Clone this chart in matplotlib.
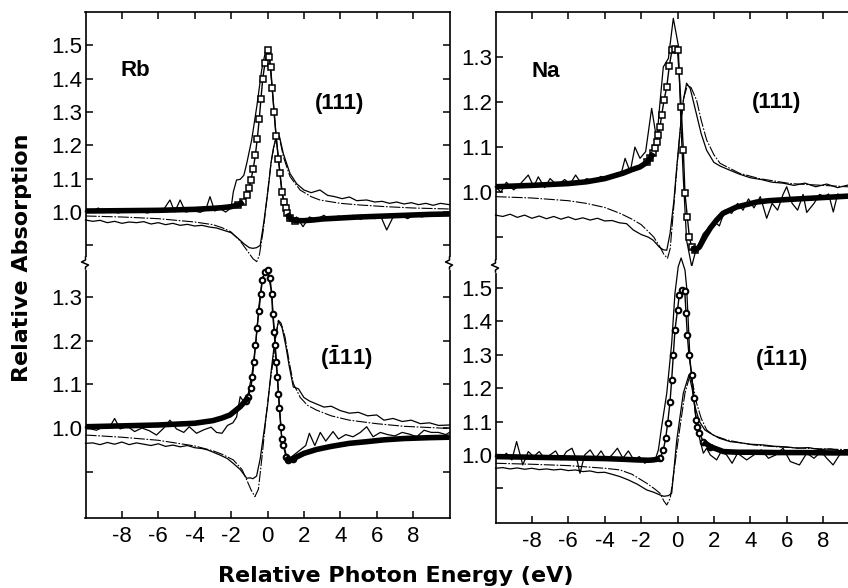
import numpy as np
import matplotlib
matplotlib.use("Agg")
import matplotlib.pyplot as plt
from matplotlib.lines import Line2D

plt.rcParams['font.family'] = ['Liberation Sans', 'DejaVu Sans']
plt.rcParams['axes.unicode_minus'] = False
plt.rcParams['mathtext.fontset'] = 'custom'
plt.rcParams['mathtext.rm'] = 'Liberation Sans:bold'
plt.rcParams['mathtext.bf'] = 'Liberation Sans:bold'
plt.rcParams['mathtext.it'] = 'Liberation Sans:bold'

# ---------------- Rb (111) ----------------
rb111_fit_x = [-10, -8, -6, -4, -3, -2.5, -2, -1.6, -1.33, -1.14, -1.02, -0.91, -0.78, -0.67, -0.56,
               -0.45, -0.36, -0.26, -0.14, 0.0, 0.1, 0.17, 0.26, 0.36, 0.47, 0.6, 0.69, 0.78, 0.91, 1.0,
               1.09, 1.24, 1.51, 2.0, 2.5, 3.0, 4.0, 5.0, 6.0, 7.0, 8.0, 9.0, 10.0]
rb111_fit_y = [1.003, 1.004, 1.005, 1.008, 1.011, 1.013, 1.016, 1.021, 1.031, 1.051, 1.071, 1.096, 1.13, 1.17, 1.22,
               1.28, 1.34, 1.40, 1.447, 1.486, 1.466, 1.436, 1.371, 1.30, 1.228, 1.16, 1.116, 1.061, 1.031, 1.011,
               0.996, 0.981, 0.974, 0.974, 0.976, 0.979, 0.982, 0.985, 0.987, 0.989, 0.991, 0.993, 0.994]
rb111_exp_x = [-10, -9.6, -9.3, -9.0, -8.6, -8.2, -7.8, -7.4, -7.0, -6.6, -6.2, -5.8, -5.36, -5.1, -4.8,
               -4.5, -4.1, -3.7, -3.4, -3.16, -2.9, -2.6, -2.3, -2.0, -1.88, -1.7, -1.5, -1.3, -1.14, -0.87,
               -0.59, -0.32, -0.08, 0.1, 0.26, 0.47, 0.69, 0.91, 1.1, 1.3, 1.6, 1.95, 2.3, 2.7, 3.1,
               3.5, 3.9, 4.3, 4.7, 5.1, 5.5, 5.9, 6.2, 6.55, 6.9, 7.3, 7.7, 8.1, 8.5, 8.9, 9.3, 9.7, 10]
rb111_exp_y = [1.0, 1.002, 1.012, 0.998, 1.003, 0.997, 1.004, 0.999, 1.002, 0.997, 1.003, 1.0, 1.036, 1.0, 1.036,
               1.0, 1.004, 0.999, 1.006, 1.046, 1.003, 1.01, 1.0, 1.012, 1.06, 1.096, 1.098, 1.11, 1.146, 1.216,
               1.316, 1.426, 1.49, 1.466, 1.37, 1.23, 1.11, 1.02, 0.975, 0.972, 0.985, 0.956, 0.985, 0.978, 0.99,
               0.975, 0.988, 0.98, 0.99, 0.978, 0.985, 0.98, 0.99, 0.946, 0.985, 0.99, 0.98, 0.992, 0.985, 0.995,
               0.99, 0.998, 0.99]
rb111_dth_x = [-10, -8, -6, -4, -3, -2.5, -2, -1.5, -1.14, -0.8, -0.59, -0.45, -0.23, 0.04, 0.2,
               0.32, 0.5, 0.65, 0.87, 1.24, 1.79, 2.4, 2.88, 4.0, 5.08, 6.5, 8.0, 10.0]
rb111_dth_y = [0.988, 0.985, 0.98, 0.97, 0.962, 0.953, 0.94, 0.913, 0.886, 0.86, 0.851, 0.87, 0.946, 1.076, 1.15,
               1.186, 1.228, 1.225, 1.166, 1.106, 1.066, 1.046, 1.036, 1.026, 1.021, 1.016, 1.012, 1.009]
rb111_dex_x = [-10, -9.6, -9.2, -8.8, -8.4, -8.0, -7.6, -7.2, -6.8, -6.4, -6.0, -5.6, -5.2, -4.8, -4.4,
               -4.0, -3.6, -3.2, -2.8, -2.4, -2.0, -1.6, -1.3, -1.0, -0.8, -0.6, -0.4, -0.2, 0.04, 0.2,
               0.32, 0.5, 0.65, 0.87, 1.24, 1.6, 2.0, 2.4, 2.88, 3.3, 3.7, 4.1, 4.5, 4.9, 5.45,
               5.9, 6.3, 6.7, 7.1, 7.5, 7.9, 8.3, 8.7, 9.1, 9.5, 10]
rb111_dex_y = [0.976, 0.972, 0.975, 0.968, 0.972, 0.966, 0.97, 0.968, 0.971, 0.964, 0.968, 0.962, 0.966, 0.96, 0.963,
               0.958, 0.96, 0.955, 0.952, 0.945, 0.938, 0.92, 0.905, 0.893, 0.891, 0.893, 0.90, 0.97, 1.07, 1.15,
               1.19, 1.232, 1.228, 1.175, 1.115, 1.085, 1.066, 1.058, 1.066, 1.05, 1.046, 1.04, 1.045, 1.034, 1.036,
               1.03, 1.032, 1.026, 1.03, 1.024, 1.028, 1.022, 1.026, 1.02, 1.026, 1.022]

# ---------------- Rb (-111) ----------------
rbm111_fit_x = [-10, -8, -6, -4, -3, -2.5, -2.06, -1.5, -1.2, -1.05, -0.92, -0.83, -0.74, -0.66, -0.58,
                -0.47, -0.37, -0.28, -0.14, 0.0, 0.14, 0.23, 0.28, 0.37, 0.41, 0.47, 0.54, 0.6, 0.65, 0.73,
                0.78, 0.87, 1.02, 1.14, 1.42, 2.0, 2.7, 3.5, 4.5, 5.5, 6.4, 7.5, 8.9, 10]
rbm111_fit_y = [1.003, 1.005, 1.007, 1.011, 1.017, 1.023, 1.03, 1.049, 1.063, 1.072, 1.091, 1.117, 1.152, 1.19, 1.228,
                1.268, 1.308, 1.34, 1.358, 1.362, 1.343, 1.308, 1.262, 1.22, 1.19, 1.152, 1.117, 1.079, 1.045, 1.003,
                0.976, 0.961, 0.934, 0.927, 0.93, 0.942, 0.951, 0.958, 0.965, 0.969, 0.973, 0.976, 0.978, 0.979]
rbm111_exp_x = [-10, -9.7, -9.4, -9.0, -8.7, -8.4, -8.1, -7.7, -7.3, -6.9, -6.5, -6.1, -5.7, -5.36, -5.0,
                -4.6, -4.3, -3.9, -3.5, -3.1, -2.8, -2.5, -2.2, -1.9, -1.7, -1.5, -1.3, -1.05, -0.83, -0.63,
                -0.47, -0.28, 0.0, 0.23, 0.41, 0.6, 0.78, 1.02, 1.2, 1.5, 1.8, 2.1, 2.3, 2.6, 2.9,
                3.2, 3.6, 3.9, 4.3, 4.7, 5.1, 5.45, 5.8, 6.2, 6.6, 7.0, 7.4, 7.8, 8.2, 8.6,
                9.0, 9.4, 9.8, 10]
rbm111_exp_y = [1.0, 0.998, 0.995, 1.003, 1.0, 1.022, 0.998, 1.004, 0.992, 1.0, 0.994, 0.984, 1.0, 1.018, 0.998,
                0.99, 1.003, 0.988, 0.996, 1.002, 0.99, 0.988, 1.006, 1.012, 1.025, 1.072, 1.06, 1.08, 1.13, 1.2,
                1.28, 1.345, 1.36, 1.31, 1.2, 1.085, 0.98, 0.94, 0.93, 0.94, 0.95, 0.96, 0.988, 0.96, 0.99,
                0.97, 0.992, 0.975, 0.985, 0.98, 0.99, 1.003, 0.98, 0.99, 0.985, 0.982, 0.99, 0.986, 0.98, 0.995,
                0.99, 0.99, 0.985, 0.99]
rbm111_dth_x = [-10, -8, -6, -4, -3, -2.5, -1.88, -1.4, -1.14, -0.9, -0.69, -0.5, -0.32, -0.04, 0.16,
                0.32, 0.46, 0.6, 0.75, 0.96, 1.2, 1.42, 1.8, 2.2, 2.7, 3.5, 4.5, 6.0, 7.5, 10]
rbm111_dth_y = [0.984, 0.979, 0.972, 0.959, 0.948, 0.94, 0.927, 0.905, 0.881, 0.858, 0.843, 0.86, 0.927, 1.041, 1.11,
                1.156, 1.21, 1.247, 1.24, 1.209, 1.15, 1.102, 1.07, 1.052, 1.041, 1.028, 1.018, 1.01, 1.004, 0.999]
rbm111_dex_x = [-10, -9.6, -9.2, -8.8, -8.4, -8.0, -7.6, -7.2, -6.8, -6.4, -6.0, -5.6, -5.2, -4.8, -4.4,
                -4.0, -3.6, -3.3, -3.0, -2.6, -2.2, -1.88, -1.5, -1.14, -0.95, -0.8, -0.6, -0.4, -0.2, 0.0,
                0.2, 0.4, 0.6, 0.8, 1.0, 1.2, 1.42, 1.7, 2.0, 2.3, 2.7, 3.1, 3.5, 4.0, 4.5,
                5.0, 5.5, 6.0, 6.4, 6.9, 7.4, 7.9, 8.4, 8.9, 9.4, 10]
rbm111_dex_y = [0.965, 0.966, 0.962, 0.967, 0.963, 0.968, 0.962, 0.966, 0.963, 0.96, 0.964, 0.958, 0.961, 0.957, 0.96,
                0.955, 0.953, 0.95, 0.945, 0.938, 0.93, 0.919, 0.905, 0.885, 0.886, 0.884, 0.89, 0.93, 0.99, 1.05,
                1.13, 1.2, 1.245, 1.23, 1.19, 1.14, 1.094, 1.09, 1.07, 1.062, 1.055, 1.048, 1.05, 1.04, 1.034,
                1.036, 1.028, 1.03, 1.018, 1.022, 1.015, 1.018, 1.01, 1.012, 1.006, 1.007]

# ---------------- Na (111) ----------------
na111_fit_x = [-10, -8, -6, -5, -4, -3, -2.5, -2.06, -1.69, -1.51, -1.33, -1.24, -1.14, -1.05, -0.96,
               -0.87, -0.74, -0.59, -0.45, -0.3, -0.15, 0.0, 0.08, 0.2, 0.32, 0.41, 0.54, 0.65, 0.78, 0.96,
               1.2, 1.51, 1.8, 2.15, 2.5, 3.25, 4.35, 5.0, 6.2, 8.0, 9.3, 10]
na111_fit_y = [1.012, 1.015, 1.019, 1.023, 1.03, 1.042, 1.05, 1.056, 1.066, 1.075, 1.087, 1.097, 1.112, 1.127, 1.145,
               1.171, 1.204, 1.234, 1.28, 1.316, 1.318, 1.316, 1.27, 1.19, 1.093, 0.997, 0.945, 0.901, 0.878, 0.871,
               0.878, 0.901, 0.92, 0.938, 0.953, 0.967, 0.978, 0.981, 0.984, 0.988, 0.991, 0.992]
na111_exp_x = [-10, -9.7, -9.4, -9.0, -8.6, -8.2, -7.9, -7.65, -7.3, -7.0, -6.6, -6.2, -5.9, -5.6, -5.3,
               -5.0, -4.6, -4.2, -3.8, -3.34, -3.1, -2.88, -2.6, -2.34, -2.06, -1.75, -1.42, -1.14, -0.96, -0.78,
               -0.5, -0.23, 0.04, 0.2, 0.32, 0.5, 0.78, 1.0, 1.42, 1.7, 2.0, 2.3, 2.6, 2.98, 3.3,
               3.6, 3.9, 4.2, 4.55, 4.9, 5.2, 5.5, 5.8, 6.0, 6.3, 6.6, 6.9, 7.1, 7.5, 7.8,
               8.1, 8.3, 8.56, 8.8, 9.1, 9.4, 10]
na111_exp_y = [1.012, 1.0, 1.022, 1.005, 1.02, 1.038, 1.012, 1.034, 1.01, 1.03, 1.015, 1.028, 1.018, 1.038, 1.02,
               1.03, 1.025, 1.035, 1.028, 1.042, 1.04, 1.075, 1.045, 1.1, 1.075, 1.09, 1.186, 1.116, 1.2, 1.278,
               1.297, 1.386, 1.327, 1.14, 1.03, 0.893, 0.835, 0.87, 0.908, 0.92, 0.935, 0.925, 0.96, 0.953, 0.975,
               0.96, 0.985, 0.965, 0.99, 0.942, 0.975, 0.96, 0.995, 1.012, 0.975, 0.96, 0.995, 0.955, 0.975, 0.995,
               0.99, 0.996, 0.956, 0.996, 0.99, 0.995, 0.992]
na111_dth_x = [-10, -8, -6, -5, -4, -3.16, -2.5, -2.0, -1.69, -1.3, -0.96, -0.75, -0.55, -0.4, -0.2,
               0.0, 0.2, 0.35, 0.55, 0.75, 1.05, 1.3, 1.6, 2.0, 2.34, 3.4, 4.5, 6.2, 8.0, 9.3, 10]
na111_dth_y = [0.99, 0.987, 0.981, 0.975, 0.966, 0.953, 0.94, 0.928, 0.916, 0.9, 0.878, 0.862, 0.853, 0.875, 0.97,
               1.07, 1.16, 1.21, 1.238, 1.232, 1.204, 1.16, 1.116, 1.083, 1.064, 1.042, 1.03, 1.019, 1.015, 1.012, 1.011]
na111_dex_x = [-10, -9.6, -9.2, -8.8, -8.4, -8.0, -7.6, -7.2, -6.8, -6.4, -6.0, -5.6, -5.2, -4.8, -4.4,
               -4.0, -3.6, -3.2, -2.8, -2.43, -2.0, -1.6, -1.33, -1.0, -0.78, -0.59, -0.41, -0.2, -0.04, 0.15,
               0.32, 0.5, 0.7, 1.0, 1.3, 1.6, 2.0, 2.34, 2.8, 3.4, 4.0, 4.6, 5.2, 5.8, 6.4,
               7.0, 7.6, 8.2, 8.8, 9.4, 10]
na111_dex_y = [0.949, 0.946, 0.951, 0.944, 0.949, 0.942, 0.947, 0.941, 0.946, 0.94, 0.945, 0.939, 0.943, 0.938, 0.942,
               0.936, 0.937, 0.932, 0.93, 0.916, 0.906, 0.9, 0.893, 0.878, 0.872, 0.871, 0.908, 0.98, 1.056, 1.14,
               1.204, 1.242, 1.23, 1.18, 1.13, 1.093, 1.066, 1.058, 1.05, 1.04, 1.032, 1.028, 1.022, 1.02, 1.015,
               1.02, 1.012, 1.018, 1.01, 1.016, 1.01]

# ---------------- Na (-111) ----------------
nam111_fit_x = [-10, -8, -6, -4, -3, -2.24, -1.6, -1.33, -1.1, -0.96, -0.78, -0.65, -0.54, -0.41, -0.32,
                -0.23, -0.14, 0.0, 0.1, 0.25, 0.4, 0.47, 0.54, 0.63, 0.78, 0.9, 1.02, 1.09, 1.2, 1.42,
                1.79, 2.52, 3.3, 4.16, 5.5, 7.0, 8.5, 10]
nam111_fit_y = [0.995, 0.993, 0.991, 0.989, 0.987, 0.985, 0.984, 0.985, 0.987, 0.99, 1.015, 1.05, 1.095, 1.16, 1.225,
                1.299, 1.374, 1.434, 1.48, 1.494, 1.49, 1.424, 1.359, 1.299, 1.24, 1.17, 1.105, 1.085, 1.065, 1.04,
                1.025, 1.01, 1.008, 1.008, 1.007, 1.007, 1.006, 1.006]
nam111_exp_x = [-10, -9.7, -9.4, -9.1, -8.84, -8.5, -8.2, -7.9, -7.6, -7.3, -7.0, -6.7, -6.4, -6.1, -5.8,
                -5.5, -5.36, -5.1, -4.8, -4.5, -4.2, -3.9, -3.6, -3.3, -3.0, -2.7, -2.4, -2.1, -1.8, -1.5,
                -1.2, -1.05, -0.87, -0.59, -0.32, -0.14, 0.04, 0.2, 0.41, 0.5, 0.69, 0.96, 1.14, 1.42, 1.6,
                1.8, 2.15, 2.4, 2.7, 3.0, 3.3, 3.8, 4.2, 4.6, 5.0, 5.4, 5.8, 6.2, 6.7, 7.1,
                7.5, 7.9, 8.2, 8.55, 8.9, 9.3, 9.7, 10]
nam111_exp_y = [1.0, 0.99, 1.005, 0.985, 1.04, 0.97, 1.01, 0.995, 1.01, 0.99, 1.0, 1.012, 0.985, 1.01, 1.02,
                0.98, 0.945, 1.0, 1.015, 0.99, 1.012, 0.985, 1.0, 1.02, 0.99, 1.012, 0.985, 0.995, 0.975, 0.985,
                0.99, 1.015, 1.085, 1.185, 1.334, 1.484, 1.564, 1.59, 1.554, 1.504, 1.284, 1.135, 1.065, 1.005, 1.02,
                1.0, 0.985, 1.01, 1.0, 0.975, 1.005, 0.985, 1.0, 1.015, 0.99, 1.0, 1.02, 0.98, 0.97, 1.005,
                0.99, 1.01, 0.99, 0.97, 1.0, 1.015, 0.99, 1.0]
nam111_dth_x = [-10, -8, -6, -4, -3.16, -2.5, -1.69, -1.3, -0.96, -0.75, -0.59, -0.4, -0.23, 0.0, 0.14,
                0.41, 0.69, 0.85, 1.05, 1.3, 1.6, 2.0, 2.7, 3.5, 4.16, 5.5, 7.0, 8.5, 10]
nam111_dth_y = [0.975, 0.972, 0.968, 0.96, 0.955, 0.942, 0.915, 0.9, 0.885, 0.862, 0.85, 0.87, 0.935, 1.03, 1.085,
                1.185, 1.24, 1.21, 1.155, 1.11, 1.075, 1.058, 1.045, 1.036, 1.03, 1.024, 1.02, 1.017, 1.015]
nam111_dex_x = [-10, -9.6, -9.2, -8.8, -8.4, -8.0, -7.6, -7.2, -6.8, -6.4, -6.0, -5.6, -5.2, -4.8, -4.4,
                -4.0, -3.6, -3.16, -2.7, -2.2, -1.69, -1.3, -0.96, -0.75, -0.5, -0.32, -0.04, 0.32, 0.63, 0.8,
                0.96, 1.2, 1.5, 1.79, 2.3, 2.88, 3.5, 4.0, 4.7, 5.3, 6.0, 6.6, 7.2, 7.8, 8.4,
                9.0, 9.6, 10]
nam111_dex_y = [0.96, 0.962, 0.958, 0.961, 0.957, 0.96, 0.956, 0.958, 0.955, 0.957, 0.953, 0.955, 0.95, 0.952, 0.947,
                0.948, 0.942, 0.935, 0.925, 0.912, 0.895, 0.888, 0.88, 0.876, 0.878, 0.885, 1.045, 1.185, 1.24, 1.2,
                1.145, 1.1, 1.075, 1.065, 1.05, 1.04, 1.036, 1.032, 1.03, 1.026, 1.024, 1.02, 1.022, 1.016, 1.018,
                1.012, 1.014, 1.01]

x_ticks = [-8, -6, -4, -2, 0, 2, 4, 6, 8]
x_labels = ['-8', '-6', '-4', '-2', '0', '2', '4', '6', '8']

W, H = 848, 588
fig = plt.figure(figsize=(W / 100, H / 100), dpi=100)


def add_ax(left, top, right, bottom):
    # pixel box -> figure fraction
    return fig.add_axes([left / W, 1 - bottom / H, (right - left) / W, (bottom - top) / H])


def style(ax, ylim, yticks, upper):
    ax.set_xlim(-10, 10)
    ax.set_ylim(*ylim)
    ax.set_yticks(yticks, ['' if t < 0.95 else '%.1f' % t for t in yticks])
    ax.set_xticks(x_ticks, x_labels)
    for s in ax.spines.values():
        s.set_linewidth(1.2)
    ax.tick_params(direction='in', length=5, width=1.1, labelsize=16, left=True, right=True)
    ax.tick_params(axis='y', pad=2)
    if upper:
        ax.spines['bottom'].set_visible(False)
        ax.tick_params(axis='x', top=True, bottom=False, labelbottom=False)
    else:
        ax.spines['top'].set_visible(False)
        ax.tick_params(axis='x', top=False, bottom=True, pad=6)


def draw(ax, fx, fy, ex, ey, tx, ty, dx, dy, marker, mlo, mhi, tlo, thi):
    fx, fy = np.asarray(fx), np.asarray(fy)
    ax.plot(ex, ey, color='k', lw=0.9, clip_on=False)
    ax.plot(dx, dy, color='k', lw=0.9, clip_on=False)
    ax.plot(tx, ty, color='k', lw=0.8, dashes=(10, 1.5, 1.5, 1.5), clip_on=False)
    ax.plot(fx, fy, color='k', lw=1.0, clip_on=False)
    near = (fx > mlo) & (fx < mhi)
    mew = 1.5 if marker == 'o' else 1.1
    ax.plot(fx[near], fy[near], ls='none', marker=marker, ms=4, mfc='white', mec='k', mew=mew, clip_on=False)
    lo = fx <= tlo
    hi = fx >= thi
    ax.plot(fx[lo], fy[lo], color='k', lw=4, solid_capstyle='butt')
    ax.plot(fx[hi], fy[hi], color='k', lw=4, solid_capstyle='butt')


ax_ul = add_ax(85.5, 12, 449.5, 263)
ax_ll = add_ax(85.5, 263, 449.5, 518)
ax_ur = add_ax(495.5, 12, 859.5, 266)
ax_lr = add_ax(495.5, 266, 859.5, 523)

style(ax_ul, (0.847, 1.60), [0.9, 1.0, 1.1, 1.2, 1.3, 1.4, 1.5], True)
style(ax_ll, (0.794, 1.378), [0.9, 1.0, 1.1, 1.2, 1.3], False)
style(ax_ur, (0.836, 1.40), [0.9, 1.0, 1.1, 1.2, 1.3], True)
style(ax_lr, (0.796, 1.566), [0.9, 1.0, 1.1, 1.2, 1.3, 1.4, 1.5], False)

draw(ax_ul, rb111_fit_x, rb111_fit_y, rb111_exp_x, rb111_exp_y, rb111_dth_x, rb111_dth_y,
     rb111_dex_x, rb111_dex_y, 's', -1.7, 1.6, -1.33, 1.09)
draw(ax_ll, rbm111_fit_x, rbm111_fit_y, rbm111_exp_x, rbm111_exp_y, rbm111_dth_x, rbm111_dth_y,
     rbm111_dex_x, rbm111_dex_y, 'o', -1.3, 1.5, -1.05, 1.02)
draw(ax_ur, na111_fit_x, na111_fit_y, na111_exp_x, na111_exp_y, na111_dth_x, na111_dth_y,
     na111_dex_x, na111_dex_y, 's', -1.8, 1.0, -1.33, 0.78)
draw(ax_lr, nam111_fit_x, nam111_fit_y, nam111_exp_x, nam111_exp_y, nam111_dth_x, nam111_dth_y,
     nam111_dex_x, nam111_dex_y, 'o', -1.1, 1.9, -0.96, 1.42)

lab = dict(fontsize=16, fontweight='bold', ha='left', va='center')
ax_ul.text(-8.1, 1.426, 'Rb', **lab)
ax_ul.text(2.6, 1.327, '(111)', **lab)
ax_ll.text(2.88, 1.162, r'$(\bar{1}11)$', **lab)
ax_ur.text(-8.0, 1.267, 'Na', **lab)
ax_ur.text(4.09, 1.198, '(111)', **lab)
ax_lr.text(4.26, 1.29, r'$(\bar{1}11)$', **lab)


def break_mark(px, py):
    fx = lambda v: v / W
    fy = lambda v: 1 - v / H
    fig.add_artist(Line2D([fx(px), fx(px)], [fy(py - 4), fy(py + 5)], color='white', lw=3,
                          transform=fig.transFigure))
    xs = [px, px, px - 4, px + 3, px, px]
    ys = [py - 6, py - 3, py - 1, py + 2, py + 4, py + 6]
    fig.add_artist(Line2D([fx(v) for v in xs], [fy(v) for v in ys], color='k', lw=1.1,
                          transform=fig.transFigure))


break_mark(85.5, 263)
break_mark(449.5, 263)
break_mark(495.5, 266)

fig.text(22 / W, 1 - 258 / H, 'Relative Absorption', rotation=90, ha='center', va='center',
         fontsize=16, family='DejaVu Sans', fontweight='bold')
fig.text(396 / W, 1 - 576 / H, 'Relative Photon Energy (eV)', ha='center', va='center',
         fontsize=16, family='DejaVu Sans', fontweight='bold')

fig.savefig('out.png', dpi=100)
